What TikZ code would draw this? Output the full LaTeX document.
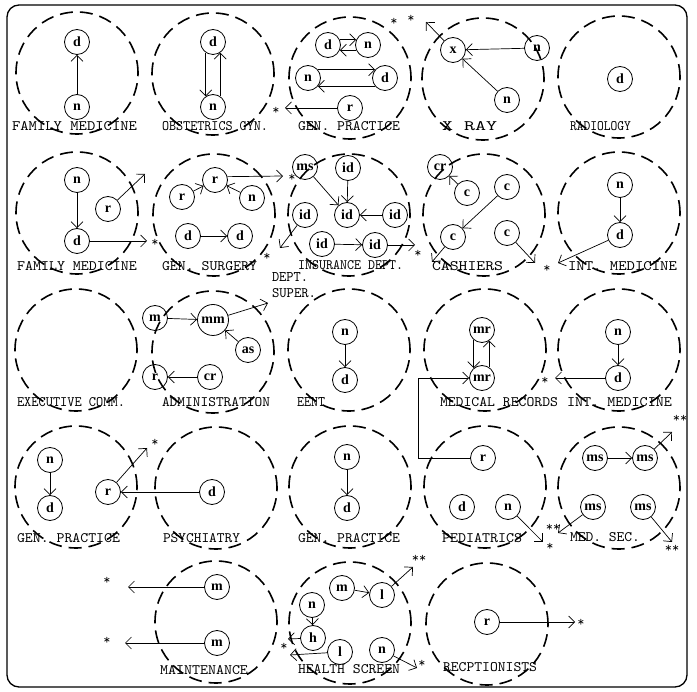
\documentclass[tikz,border=0pt]{standalone}
\usepackage{fontspec}
\newfontfamily\nodefont{Liberation Serif}
\usetikzlibrary{arrows.meta}
\tikzset{
  dept/.style={circle, draw, line width=1.6pt, dash pattern=on 13pt off 7pt, minimum size=122pt, inner sep=0pt},
  st/.style={circle, draw, line width=0.8pt, minimum size=25pt, inner sep=0pt, font=\nodefont\bfseries\fontsize{14}{14}\selectfont},
  big/.style={st, minimum size=31pt},
  arr/.style={line width=0.7pt, -{Straight Barb[length=6pt,width=12pt]}},
  lab/.style={inner sep=0pt, font=\ttfamily},
  ast/.style={inner sep=0pt, font=\ttfamily\fontsize{14}{14}\selectfont},
  frame/.style={draw, line width=1.3pt, rounded corners=12pt}
}
\newcommand\lbl[5]{\node[lab] (#1) at ({(#2+#3)/2},#4) {\resizebox{\dimexpr #3pt-#2pt\relax}{9pt}{#5}};}
\begin{document}
\begin{tikzpicture}[x=1pt,y=-1pt]
\useasboundingbox (0,0) rectangle (697,692);
\draw[frame] (7,5) rectangle (687,687);

% big dashed circles
\node[dept] (kA1) at (77,73) {};
\node[dept] (kB1) at (213,74) {};
\node[dept] (kC1) at (350,78) {};
\node[dept] (kD1) at (483,79) {};
\node[dept] (kE1) at (619,77) {};
\node[dept] (kA2) at (77,213) {};
\node[dept] (kB2) at (214,215) {};
\node[dept] (kC2) at (349,215) {};
\node[dept] (kD2) at (484,215) {};
\node[dept] (kE2) at (619,213) {};
\node[dept] (kA3) at (76,350) {};
\node[dept] (kB3) at (213,352) {};
\node[dept] (kC3) at (349,350) {};
\node[dept] (kD3) at (485,350) {};
\node[dept] (kE3) at (619,350) {};
\node[dept] (kA4) at (76,487) {};
\node[dept] (kB4) at (216,488) {};
\node[dept] (kC4) at (350,487) {};
\node[dept] (kD4) at (485,487) {};
\node[dept] (kE4) at (619,488) {};
\node[dept] (kB5) at (216,622) {};
\node[dept] (kC5) at (350,623) {};
\node[dept] (kD5) at (487,624) {};

% labels
\lbl{lA1}{12}{137}{126.5}{FAMILY MEDICINE}
\lbl{lB1}{162}{268}{126.5}{OBSTETRICS GYN.}
\lbl{lC1}{298}{400}{126.5}{GEN. PRACTICE}
\lbl{lD1}{442}{497}{126.5}{X  RAY}
\lbl{lE1}{570}{631}{126.5}{RADIOLOGY}
\lbl{lA2}{17}{137}{266}{FAMILY MEDICINE}
\lbl{lB2}{162}{257}{266}{GEN. SURGERY}
\lbl{lC2}{298}{403}{265}{INSURANCE DEPT.}
\lbl{lD2}{432}{503}{266}{CASHIERS}
\lbl{lE2}{568}{677}{266}{INT. MEDICINE}
\lbl{lDp}{272}{308}{277}{DEPT.}
\lbl{lSu}{272}{316}{293}{SUPER.}
\lbl{lA3}{17}{125}{402}{EXECUTIVE COMM.}
\lbl{lB3}{162}{270}{402}{ADMINISTRATION}
\lbl{lC3}{297}{325}{402}{EENT}
\lbl{lD3}{440}{558}{402}{MEDICAL RECORDS}
\lbl{lE3}{567}{672}{402}{INT. MEDICINE}
\lbl{lA4}{17}{120}{538}{GEN. PRACTICE}
\lbl{lB4}{163}{240}{538}{PSYCHIATRY}
\lbl{lC4}{298}{400}{538}{GEN. PRACTICE}
\lbl{lD4}{442}{522}{538}{PEDIATRICS}
\lbl{lE4}{570}{640}{537}{MED. SEC.}
\lbl{lB5}{160}{248}{670}{MAINTENANCE}
\lbl{lC5}{298}{400}{669}{HEALTH SCREEN}
\lbl{lD5}{443}{537}{667}{RECPTIONISTS}

% ---------- Row 1
\node[st] (a1d) at (77,42) {d};
\node[st] (a1n) at (77,107) {n};
\draw[arr] (a1n) -- (a1d);

\node[st] (b1d) at (213,42) {d};
\node[st] (b1n) at (213,107) {n};
\draw[arr] (b1d.236) -- (b1n.124);
\draw[arr] (b1n.56) -- (b1d.-56);

\node[st] (c1d) at (328,45) {d};
\node[st] (c1n) at (368,45) {n};
\draw[arr] (c1d.24) -- (c1n.156);
\draw[arr] (c1n.204) -- (c1d.-24);
\node[st] (c1n2) at (308,78) {n};
\node[st] (c1d2) at (385,78) {d};
\draw[arr] (c1n2.40) -- (c1d2.140);
\draw[arr] (c1d2.220) -- (c1n2.-40);
\node[st] (c1r) at (350,108) {r};
\coordinate (c1re) at (285,108);
\draw[arr] (c1r) -- (c1re);
\node[ast] (s1) at (276,111) {*};

\node[st] (d1x) at (453,50) {x};
\node[st] (d1n) at (537,48) {n};
\node[st] (d1n2) at (507,100) {n};
\coordinate (d1xe) at (426,22);
\draw[arr] (d1n) -- (d1x);
\draw[arr] (d1n2) -- (d1x);
\draw[arr] (d1x) -- (d1xe);
\node[ast] (s2) at (394,22) {*};
\node[ast] (s3) at (411,19) {*};

\node[st] (e1d) at (620,79) {d};

% ---------- Row 2
\node[st] (a2n) at (77,180) {n};
\node[st] (a2d) at (77,241) {d};
\node[st] (a2r) at (108,209) {r};
\coordinate (a2de) at (147,241);
\coordinate (a2re) at (145,174);
\draw[arr] (a2n) -- (a2d);
\draw[arr] (a2d) -- (a2de);
\draw[arr] (a2r) -- (a2re);
\node[ast] (s4) at (155,243) {*};

\node[st] (b2r1) at (182,197) {r};
\node[st] (b2r2) at (215,180) {r};
\node[st] (b2n) at (252,198) {n};
\node[st] (b2d1) at (188,236) {d};
\node[st] (b2d2) at (240,236) {d};
\coordinate (b2re) at (283,176);
\draw[arr] (b2r1) -- (b2r2);
\draw[arr] (b2n) -- (b2r2);
\draw[arr] (b2r2.15) -- (b2re);
\draw[arr] (b2d1) -- (b2d2);
\node[ast] (s5) at (292,178) {*};

\node[st] (c2ms) at (305,167) {ms};
\node[st] (c2i1) at (348,168) {id};
\node[st] (c2i2) at (347,215) {id};
\node[st] (c2i3) at (395,215) {id};
\node[st] (c2i4) at (305,215) {id};
\node[st] (c2i5) at (322,244) {id};
\node[st] (c2i6) at (375,245) {id};
\coordinate (c2e4) at (280,248);
\coordinate (c2e6) at (415,245);
\draw[arr] (c2ms) -- (c2i2);
\draw[arr] (c2i1) -- (c2i2);
\draw[arr] (c2i3) -- (c2i2);
\draw[arr] (c2i4) -- (c2e4);
\draw[arr] (c2i5) -- (c2i6);
\draw[arr] (c2i6) -- (c2e6);
\node[ast] (s6) at (267,257) {*};
\node[ast] (s7) at (418,254) {*};

\node[st] (d2cr) at (440,167) {cr};
\node[st] (d2c1) at (467,193) {c};
\node[st] (d2c2) at (507,187) {c};
\node[st] (d2c3) at (453,237) {c};
\node[st] (d2c4) at (507,233) {c};
\coordinate (d2e3) at (432,262);
\coordinate (d2e4) at (535,263);
\draw[arr] (d2c1) -- (d2cr);
\draw[arr] (d2c2) -- (d2c3);
\draw[arr] (d2c3) -- (d2e3);
\draw[arr] (d2c4) -- (d2e4);
\node[ast] (s8) at (547,269) {*};

\node[st] (e2n) at (620,185) {n};
\node[st] (e2d) at (620,235) {d};
\coordinate (e2de) at (558,263);
\draw[arr] (e2n) -- (e2d);
\draw[arr] (e2d) -- (e2de);

% ---------- Row 3
\node[st] (b3m) at (155,318) {m};
\node[big] (b3mm) at (213,320) {mm};
\node[st] (b3as) at (248,350) {as};
\node[st] (b3cr) at (210,377) {cr};
\node[st] (b3r) at (155,377) {r};
\coordinate (b3e) at (268,303);
\draw[arr] (b3m) -- (b3mm);
\draw[arr] (b3as) -- (b3mm);
\draw[arr] (b3mm) -- (b3e);
\draw[arr] (b3cr) -- (b3r);

\node[st] (c3n) at (345,332) {n};
\node[st] (c3d) at (345,380) {d};
\draw[arr] (c3n) -- (c3d);

\node[st] (d3t) at (482,330) {mr};
\node[st] (d3b) at (482,378) {mr};
\draw[arr] (d3t.230) -- (d3b.130);
\draw[arr] (d3b.56) -- (d3t.-56);

\node[st] (e3n) at (618,332) {n};
\node[st] (e3d) at (618,378) {d};
\coordinate (e3de) at (555,378);
\draw[arr] (e3n) -- (e3d);
\draw[arr] (e3d) -- (e3de);
\node[ast] (s9) at (545,381) {*};

% ---------- Row 4
\node[st] (a4n) at (50,460) {n};
\node[st] (a4d) at (50,508) {d};
\node[st] (a4r) at (108,492) {r};
\coordinate (a4re) at (147,448);
\draw[arr] (a4n) -- (a4d);
\draw[arr] (a4r) -- (a4re);
\node[ast] (s10) at (155,443) {*};

\node[st] (b4d) at (212,492) {d};
\draw[arr] (b4d) -- (a4r);

\node[st] (c4n) at (347,457) {n};
\node[st] (c4d) at (347,508) {d};
\draw[arr] (c4n) -- (c4d);

\node[st] (d4r) at (483,458) {r};
\node[st] (d4d) at (462,507) {d};
\node[st] (d4n) at (508,507) {n};
\coordinate (d4ne) at (543,542);
\coordinate (d4bend) at (418,458);
\draw[arr] (d4n) -- (d4ne);
\draw[arr] (d4r) -- (d4bend) |- (d3b);
\node[ast] (s11) at (550,547) {*};

\node[st] (e4a) at (595,458) {ms};
\node[st] (e4b) at (645,458) {ms};
\node[st] (e4c) at (593,507) {ms};
\node[st] (e4d) at (643,507) {ms};
\coordinate (e4be) at (672,432);
\coordinate (e4ce) at (558,533);
\coordinate (e4de) at (672,542);
\draw[arr] (e4a) -- (e4b);
\draw[arr] (e4b) -- (e4be);
\draw[arr] (e4c) -- (e4ce);
\draw[arr] (e4d) -- (e4de);
\node[ast] (s12) at (680,419) {**};
\node[ast] (s13) at (553,528) {**};
\node[ast] (s14) at (672,549) {**};

% ---------- Row 5
\node[st] (b5m1) at (217,587) {m};
\node[st] (b5m2) at (217,643) {m};
\coordinate (b5e1) at (128,587);
\coordinate (b5e2) at (125,643);
\draw[arr] (b5m1) -- (b5e1);
\draw[arr] (b5m2) -- (b5e2);
\node[ast] (s15) at (107,581) {*};
\node[ast] (s16) at (107,641) {*};

\node[st] (c5m) at (342,588) {m};
\node[st] (c5l) at (382,595) {l};
\node[st] (c5n) at (312,605) {n};
\node[st] (c5h) at (313,638) {h};
\node[st] (c5l2) at (340,652) {l};
\node[st] (c5n2) at (382,650) {n};
\coordinate (c5le) at (413,567);
\coordinate (c5he) at (288,639);
\coordinate (c5l2e) at (290,655);
\coordinate (c5n2e) at (417,668);
\draw[arr] (c5m) -- (c5l);
\draw[arr] (c5l) -- (c5le);
\draw[arr] (c5n) -- (c5h);
\draw[arr] (c5h) -- (c5he);
\draw[arr] (c5l2) -- (c5l2e);
\draw[arr] (c5n2) -- (c5n2e);
\node[ast] (s17) at (419,559) {**};
\node[ast] (s18) at (284,647) {*};
\node[ast] (s19) at (422,664) {*};

\node[st] (d5r) at (487,622) {r};
\coordinate (d5re) at (575,622);
\draw[arr] (d5r) -- (d5re);
\node[ast] (s20) at (581,623) {*};
\end{tikzpicture}
\end{document}
